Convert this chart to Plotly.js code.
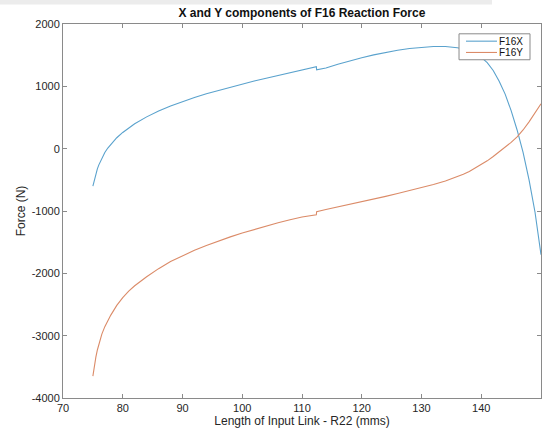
<!DOCTYPE html>
<html>
<head>
<meta charset="utf-8">
<script src="https://cdn.plot.ly/plotly-3.0.1.min.js"></script>
<style>html,body{margin:0;padding:0;background:#fff;}#chart{width:543px;height:428px;}</style>
</head>
<body>
<div id="chart"></div>
<script>
// Length of input link R22 (mms)
var xF16X = [75, 75.25, 75.5, 75.75, 76, 76.5, 77, 77.5, 78, 79, 80, 81, 82, 84, 86, 88, 90, 92, 94, 96, 98, 100, 102, 104, 106, 108, 110, 112.4, 112.45, 114, 116, 118, 120, 122, 124, 126, 128, 130, 132, 134, 135, 136, 137, 138, 139, 140, 141, 142, 143, 144, 145, 146, 147, 148, 149, 150];
var yF16X = [-600, -490, -400, -325, -260, -150, -60, 10, 70, 175, 260, 335, 400, 510, 605, 685, 755, 820, 880, 933, 985, 1040, 1085, 1130, 1175, 1220, 1265, 1315, 1265, 1295, 1355, 1410, 1460, 1505, 1545, 1578, 1608, 1630, 1640, 1640, 1632, 1620, 1600, 1572, 1530, 1465, 1380, 1255, 1080, 875, 610, 300, -60, -500, -1020, -1700];

var xF16Y = [75, 75.25, 75.5, 75.75, 76, 76.5, 77, 77.5, 78, 79, 80, 81, 82, 84, 86, 88, 90, 92, 94, 96, 98, 100, 102, 104, 106, 108, 110, 112.4, 112.45, 114, 116, 118, 120, 122, 124, 126, 128, 130, 132, 134, 136, 137, 138, 139, 140, 141, 142, 143, 144, 145, 146, 147, 148, 149, 150];
var yF16Y = [-3650, -3480, -3345, -3230, -3130, -2975, -2855, -2755, -2670, -2515, -2390, -2285, -2200, -2055, -1925, -1812, -1715, -1630, -1553, -1482, -1415, -1353, -1295, -1240, -1190, -1140, -1095, -1060, -1010, -975, -935, -890, -845, -805, -765, -720, -675, -625, -575, -520, -450, -410, -365, -310, -255, -195, -125, -50, 20, 100, 190, 300, 430, 570, 720];

var seriesNames = ['F16X', 'F16Y'];
var seriesColors = ['#5aa2cd', '#db8b68'];
var xTicks = [70, 80, 90, 100, 110, 120, 130, 140, 150];
var yTicks = [-4000, -3000, -2000, -1000, 0, 1000, 2000];

var font = 'Liberation Sans, Arial, Helvetica, sans-serif';

var traces = [
  {x: xF16X, y: yF16X, name: seriesNames[0], mode: 'lines', line: {color: seriesColors[0], width: 1.1}},
  {x: xF16Y, y: yF16Y, name: seriesNames[1], mode: 'lines', line: {color: seriesColors[1], width: 1.1}}
];

var axisCommon = {
  showline: true, linecolor: '#8a8a8a', linewidth: 1, mirror: 'ticks',
  ticks: 'inside', ticklen: 4, tickcolor: '#8a8a8a', tickwidth: 1,
  showgrid: false, zeroline: false,
  tickfont: {family: font, size: 11, color: '#262626'}
};

// legend box geometry (paper coords)
var lgX0 = 0.8285, lgX1 = 0.977, lgY0 = 0.9044, lgY1 = 0.9738;
var lgLineX0 = 0.8431, lgLineX1 = 0.9079, lgTextX = 0.9665;
var lgRowY = [0.9541, 0.9239];

var shapes = [
  {type: 'rect', xref: 'paper', yref: 'paper', x0: -0.14, x1: 0.8975, y0: 1.052, y1: 1.07, fillcolor: '#ececec', line: {width: 0}, layer: 'above'},
  {type: 'rect', xref: 'paper', yref: 'paper', x0: lgX0, x1: lgX1, y0: lgY0, y1: lgY1, fillcolor: '#ffffff', line: {color: '#8a8a8a', width: 1}, layer: 'above'}
];
var annotations = [];
for (var i = 0; i < seriesNames.length; i++) {
  shapes.push({type: 'line', xref: 'paper', yref: 'paper', x0: lgLineX0, x1: lgLineX1, y0: lgRowY[i], y1: lgRowY[i], line: {color: seriesColors[i], width: 1.1}, layer: 'above'});
  annotations.push({xref: 'paper', yref: 'paper', x: lgTextX, y: lgRowY[i], xanchor: 'right', yanchor: 'middle', text: seriesNames[i], showarrow: false, font: {family: font, size: 10, color: '#111'}});
}

var layout = {
  width: 543, height: 428,
  margin: {l: 63, r: 2, t: 23.5, b: 30, pad: 0},
  paper_bgcolor: '#ffffff', plot_bgcolor: '#ffffff',
  font: {family: font, color: '#262626'},
  title: {text: '<b>X and Y components of F16 Reaction Force</b>', font: {family: font, size: 12, color: '#111'}, x: 0.556, xanchor: 'center', y: 0.97, yanchor: 'middle'},
  xaxis: Object.assign({}, axisCommon, {
    range: [70, 150], tickvals: xTicks, ticktext: xTicks.map(String),
    title: {text: 'Length of Input Link - R22 (mms)', font: {family: font, size: 12, color: '#262626'}, standoff: 4}
  }),
  yaxis: Object.assign({}, axisCommon, {
    range: [-4000, 2000], tickvals: yTicks, ticktext: yTicks.map(String),
    title: {text: 'Force (N)', font: {family: font, size: 12, color: '#262626'}, standoff: 3}
  }),
  showlegend: false,
  shapes: shapes,
  annotations: annotations
};

Plotly.newPlot('chart', traces, layout, {displayModeBar: false, staticPlot: true});
</script>
</body>
</html>
